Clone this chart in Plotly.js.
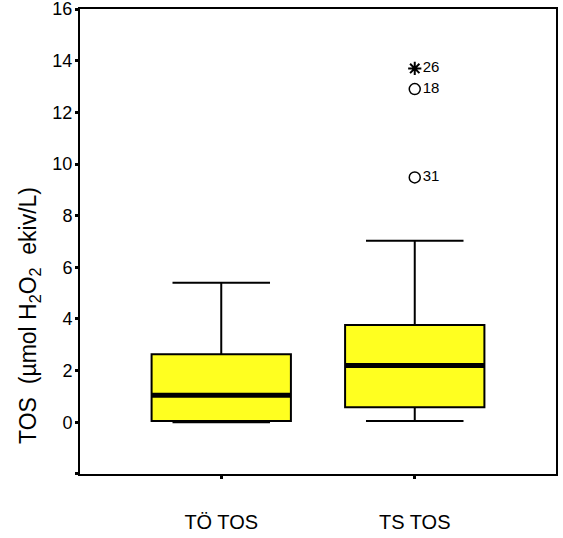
<!DOCTYPE html>
<html>
<head>
<meta charset="utf-8">
<script src="https://cdn.plot.ly/plotly-3.0.1.min.js"></script>
<style>html,body{margin:0;padding:0;background:#fff;}</style>
</head>
<body>
<div id="chart" style="width:563px;height:538px;"></div>
<script>
// Category labels
var categories = ["TÖ TOS", "TS TOS"];
var catPos = [0, 1];
// Box statistics (µmol H2O2 ekiv/L)
var q1 = [0.05, 0.58];
var medians = [1.05, 2.2];
var q3 = [2.63, 3.77];
var lowerFence = [0.0, 0.05];
var upperFence = [5.4, 7.03];
// Outliers (circle) and extremes (asterisk), for category index 1
var outlierCat = [1, 1];
var outlierVal = [12.9, 9.48];
var outlierLbl = ["18", "31"];
var extremeCat = [1];
var extremeVal = [13.7];
var extremeLbl = ["26"];
// Y axis ticks
var yTickVals = [-2, 0, 2, 4, 6, 8, 10, 12, 14, 16];
var yTickText = ["", "0", "2", "4", "6", "8", "10", "12", "14", "16"];

var boxWidth = 0.72;
var medX = [], medY = [];
for (var i = 0; i < catPos.length; i++) {
  medX.push(catPos[i] - boxWidth / 2, catPos[i] + boxWidth / 2, null);
  medY.push(medians[i], medians[i], null);
}

var font = "Liberation Sans, Arial, sans-serif";

var traces = [
  {
    type: "box",
    x: catPos,
    q1: q1, median: medians, q3: q3,
    lowerfence: lowerFence, upperfence: upperFence,
    width: boxWidth,
    whiskerwidth: 0.7,
    fillcolor: "#ffff20",
    line: {color: "#000", width: 2},
    boxpoints: false,
    hoverinfo: "skip",
    showlegend: false
  },
  {
    type: "scatter", mode: "lines",
    x: medX, y: medY,
    line: {color: "#000", width: 5},
    hoverinfo: "skip", showlegend: false
  },
  {
    type: "scatter", mode: "markers+text",
    x: outlierCat, y: outlierVal, text: outlierLbl,
    textposition: "middle right",
    textfont: {family: font, size: 15, color: "#000"},
    marker: {symbol: "circle-open", size: 11, color: "#000", line: {width: 1.5, color: "#000"}},
    cliponaxis: false, showlegend: false
  },
  {
    type: "scatter", mode: "markers+text",
    x: extremeCat, y: extremeVal, text: extremeLbl,
    textposition: "middle right",
    textfont: {family: font, size: 15, color: "#000"},
    marker: {symbol: "asterisk-open", size: 11, color: "#000", line: {width: 2, color: "#000"}},
    cliponaxis: false, showlegend: false
  }
];

var layout = {
  width: 563, height: 538,
  margin: {l: 80, r: 7, t: 9, b: 64},
  paper_bgcolor: "#fff", plot_bgcolor: "#fff",
  font: {family: font, color: "#000", size: 16},
  showlegend: false,
  xaxis: {
    range: [-0.73, 1.73],
    tickvals: catPos, ticktext: categories,
    showline: true, mirror: true, linecolor: "#000", linewidth: 2,
    ticks: "outside", ticklen: 3, tickwidth: 3, tickcolor: "#000",
    ticklabelstandoff: 26,
    showgrid: false, zeroline: false,
    tickfont: {family: font, size: 20, color: "#000"}
  },
  yaxis: {
    range: [-2.002, 16.002],
    tickvals: yTickVals, ticktext: yTickText,
    ticklabeloverflow: "allow",
    ticklabelstandoff: -1,
    showline: true, mirror: true, linecolor: "#000", linewidth: 2,
    ticks: "outside", ticklen: 3, tickwidth: 3, tickcolor: "#000",
    showgrid: false, zeroline: false,
    tickfont: {family: font, size: 18, color: "#000"}
  },
  annotations: [{
    text: "TOS\u00a0\u00a0(µmol H<sub>2</sub>O<sub>2</sub>\u00a0\u00a0ekiv/L)",
    xref: "paper", yref: "paper",
    x: -0.105, y: 0.34,
    xanchor: "center", yanchor: "middle",
    textangle: -90, showarrow: false,
    font: {family: font, size: 23, color: "#000"}
  }]
};

Plotly.newPlot("chart", traces, layout, {displayModeBar: false, staticPlot: true});
</script>
</body>
</html>
